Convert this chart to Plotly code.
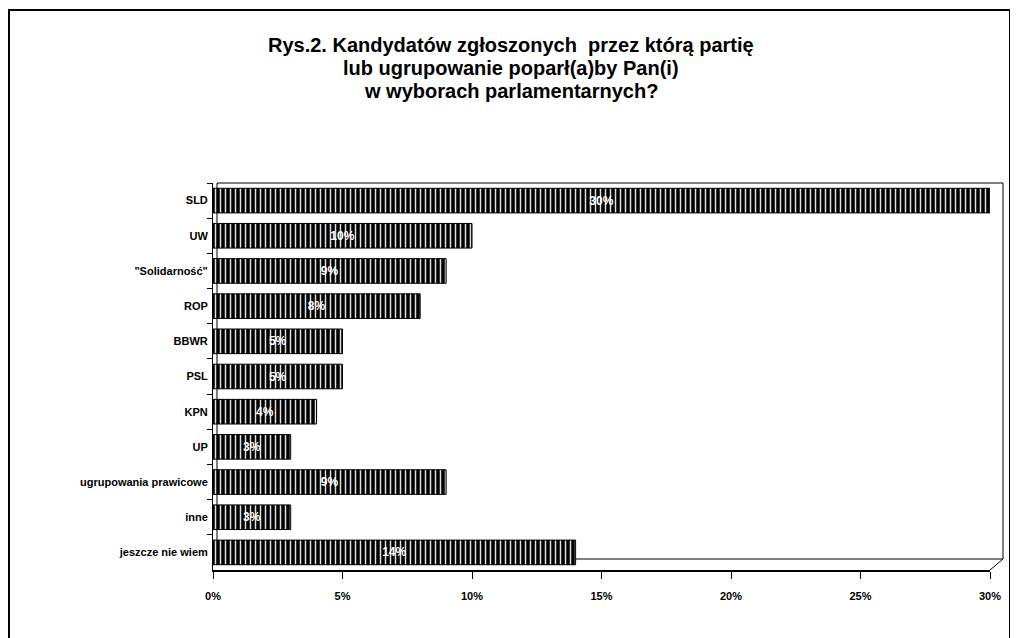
import plotly.graph_objects as go

categories = ["SLD", "UW", "\"Solidarność\"", "ROP", "BBWR", "PSL", "KPN", "UP",
              "ugrupowania prawicowe", "inne", "jeszcze nie wiem"]
values = [30, 10, 9, 8, 5, 5, 4, 3, 9, 3, 14]
tick_vals = [0, 5, 10, 15, 20, 25, 30]
tick_text = ["0%", "5%", "10%", "15%", "20%", "25%", "30%"]
title_lines = ["Rys.2. Kandydatów zgłoszonych  przez którą partię",
               "lub ugrupowanie poparł(a)by Pan(i)",
               "w wyborach parlamentarnych?"]

W, H = 1010, 630
L, R, T, B = 205, 28, 175, 68
pw, ph = W - L - R, H - T - B

def px(xf):  # figure pixel -> paper x
    return (xf - L) / pw

def py(yf):  # figure pixel -> paper y
    return (H - B - yf) / ph

fig = go.Figure()
fig.add_trace(go.Bar(
    x=values, y=categories, orientation="h",
    marker=dict(color="black", line=dict(color="black", width=1),
                pattern=dict(shape="|", fgcolor="#e0e0e0", bgcolor="black",
                             size=5, solidity=0.3, fillmode="replace")),
    text=[f"<b>{v}%</b>" for v in values], textposition="inside", insidetextanchor="middle",
    textfont=dict(color="white", size=12, family="Liberation Sans"),
    cliponaxis=False,
))

for i, line in enumerate(title_lines):
    fig.add_annotation(text=f"<b>{line}</b>", xref="paper", yref="paper",
                       x=px(503), y=py(37 + 23 * i),
                       xanchor="center", yanchor="middle", showarrow=False,
                       font=dict(family="Liberation Sans, Arial", size=20, color="black"))

# outer frame
fig.add_shape(type="rect", xref="paper", yref="paper", x0=px(1), x1=px(1002), y0=py(700), y1=py(2),
              line=dict(color="black", width=2), layer="below")
# plot area back wall
fig.add_shape(type="rect", xref="paper", yref="paper", x0=px(209), x1=px(995), y0=py(551), y1=py(175),
              line=dict(color="black", width=1), layer="below")
fig.add_shape(type="line", xref="paper", yref="paper", x0=1.0, x1=px(995), y0=0.0, y1=py(551),
              line=dict(color="black", width=1), layer="below")

fig.update_layout(
    width=W, height=H,
    margin=dict(l=L, r=R, t=T, b=B),
    paper_bgcolor="white", plot_bgcolor="white",
    showlegend=False, bargap=0.3,
    font=dict(family="Liberation Sans, Arial", color="black"),
    xaxis=dict(range=[0, 30], tickvals=tick_vals,
               ticktext=[f"<b>{t}</b>" for t in tick_text],
               ticks="outside", ticklen=7, tickcolor="black", showgrid=False,
               showline=True, linecolor="black", linewidth=2, zeroline=False,
               ticklabelstandoff=8,
               tickfont=dict(size=11, family="Liberation Sans", color="black")),
    yaxis=dict(autorange="reversed", ticks="outside", ticklen=5, tickcolor="black",
               tickson="boundaries", ticklabelstandoff=2,
               showline=True, linecolor="black", showgrid=False,
               tickfont=dict(size=11, family="Liberation Sans", color="black")),
)
fig.update_yaxes(tickprefix="<b>", ticksuffix="</b>")

fig.write_html("out.html")
